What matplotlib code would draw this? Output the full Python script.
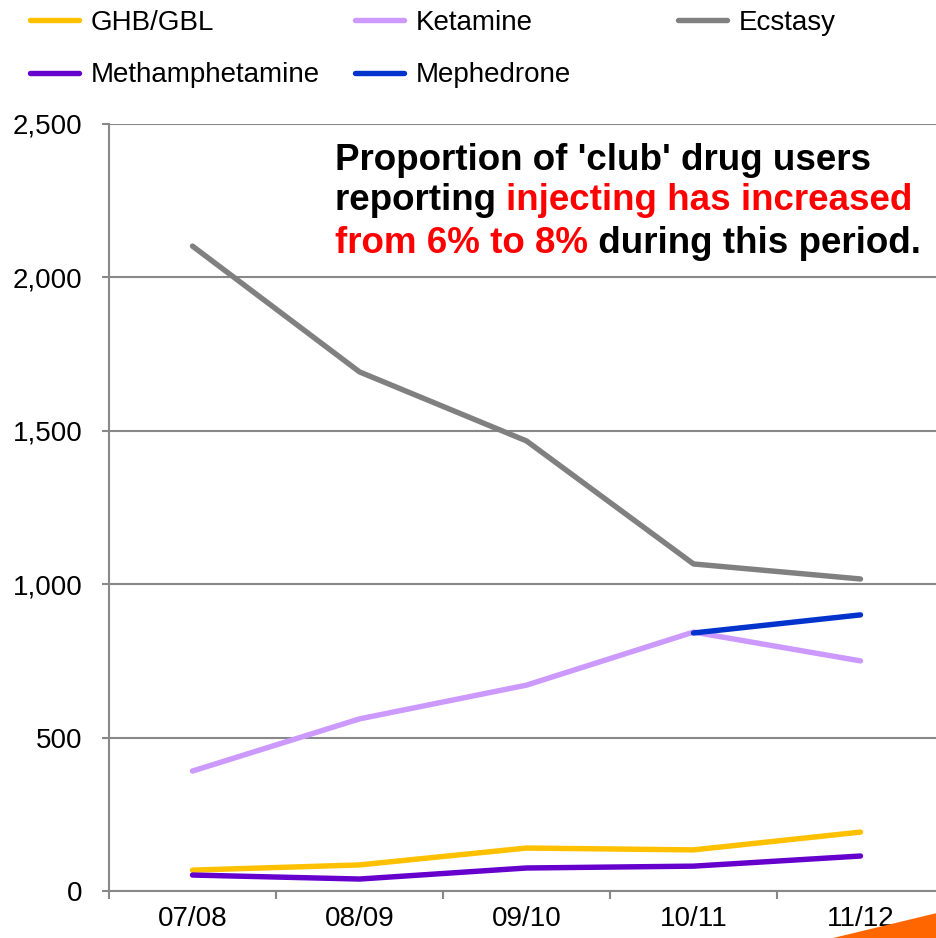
import matplotlib
matplotlib.use("Agg")
import matplotlib.pyplot as plt
from matplotlib.lines import Line2D
from matplotlib.patches import Polygon

plt.rcParams['font.family'] = ['Liberation Sans', 'DejaVu Sans']

periods = ["07/08", "08/09", "09/10", "10/11", "11/12"]
ghb = [68, 85, 140, 134, 192]
ketamine = [391, 561, 671, 844, 750]
ecstasy = [2102, 1692, 1467, 1066, 1017]
meth = [52, 39, 75, 81, 114]
meph_periods = ["10/11", "11/12"]
mephedrone = [841, 900]

yticks = [0, 500, 1000, 1500, 2000, 2500]

colors = {
    "GHB/GBL": "#FFC000",
    "Ketamine": "#CC99FF",
    "Ecstasy": "#808080",
    "Methamphetamine": "#6600CC",
    "Mephedrone": "#0033CC",
}

W, H = 937, 938
fig = plt.figure(figsize=(W / 100, H / 100), dpi=100)
ax = fig.add_axes([109 / W, 1 - 891 / H, 835 / W, 767 / H])

x = list(range(len(periods)))
lw = 3.9
ax.plot(x, ecstasy, color=colors["Ecstasy"], lw=lw, solid_capstyle='round', zorder=3)
ax.plot(x, ketamine, color=colors["Ketamine"], lw=lw, solid_capstyle='round', zorder=3)
ax.plot(x, ghb, color=colors["GHB/GBL"], lw=lw, solid_capstyle='round', zorder=3)
ax.plot(x, meth, color=colors["Methamphetamine"], lw=lw, solid_capstyle='round', zorder=4)
xm = [periods.index(p) for p in meph_periods]
ax.plot(xm, mephedrone, color=colors["Mephedrone"], lw=lw, solid_capstyle='round', zorder=4)

grid_c = "#888888"
ax.set_xlim(-0.5, len(periods) - 0.5)
ax.set_ylim(0, 2500)
ax.set_yticks(yticks)
ax.set_yticklabels([f"{v:,}" for v in yticks], fontsize=20)
ax.yaxis.grid(True, color=grid_c, lw=1.5)
ax.set_axisbelow(True)
for s in ["top", "right"]:
    ax.spines[s].set_visible(False)
for s in ["left", "bottom"]:
    ax.spines[s].set_color(grid_c)
    ax.spines[s].set_linewidth(1.5)
ax.tick_params(axis='y', length=5, width=1.5, color=grid_c, pad=14, labelcolor='black')

ax.set_xticks([i - 0.5 for i in range(len(periods) + 1)])
ax.set_xticklabels([])
ax.set_xticks(x, minor=True)
ax.set_xticklabels(periods, minor=True, fontsize=20)
ax.tick_params(axis='x', which='major', length=6, width=1.5, color=grid_c)
ax.tick_params(axis='x', which='minor', length=0, pad=11)

# annotation text
fs = 26.5
t1 = fig.text(335 / W, 1 - 160 / H, "Proportion of 'club' drug users", fontsize=fs,
              fontweight='bold', va='center', ha='left', color='black')
t2 = fig.text(335 / W, 1 - 201 / H, "reporting ", fontsize=fs,
              fontweight='bold', va='center', ha='left', color='black')
ax.annotate("injecting has increased", xy=(1, 0), xycoords=t2, va='bottom', ha='left',
            fontsize=fs, fontweight='bold', color='#FF0000')
t3 = fig.text(335 / W, 1 - 243 / H, "from 6% to 8%", fontsize=fs,
              fontweight='bold', va='center', ha='left', color='#FF0000')
ax.annotate(" during this period.", xy=(1, 0), xycoords=t3, va='bottom', ha='left',
            fontsize=fs, fontweight='bold', color='black')

# legends
def mk(name):
    return Line2D([], [], color=colors[name], lw=lw, solid_capstyle='round')

common = dict(frameon=False, fontsize=20, handlelength=1.75, handletextpad=0.45,
              labelspacing=0.95, loc='upper left', borderaxespad=0, borderpad=0)
l1 = fig.legend([mk("GHB/GBL"), mk("Methamphetamine")], ["GHB/GBL", "Methamphetamine"],
                bbox_to_anchor=(30 / W, 1 - 10 / H), **common)
l2 = fig.legend([mk("Ketamine"), mk("Mephedrone")], ["Ketamine", "Mephedrone"],
                bbox_to_anchor=(355 / W, 1 - 10 / H), **common)
l3 = fig.legend([mk("Ecstasy")], ["Ecstasy"],
                bbox_to_anchor=(678 / W, 1 - 10 / H), **common)

# decorative orange corner
tri = Polygon([(833 / W, 0), (1, 0), (1, 1 - 913 / H)], closed=True,
              transform=fig.transFigure, facecolor='#FF6600', edgecolor='none', zorder=0)
fig.patches.append(tri)

fig.savefig("out.png", dpi=100)
